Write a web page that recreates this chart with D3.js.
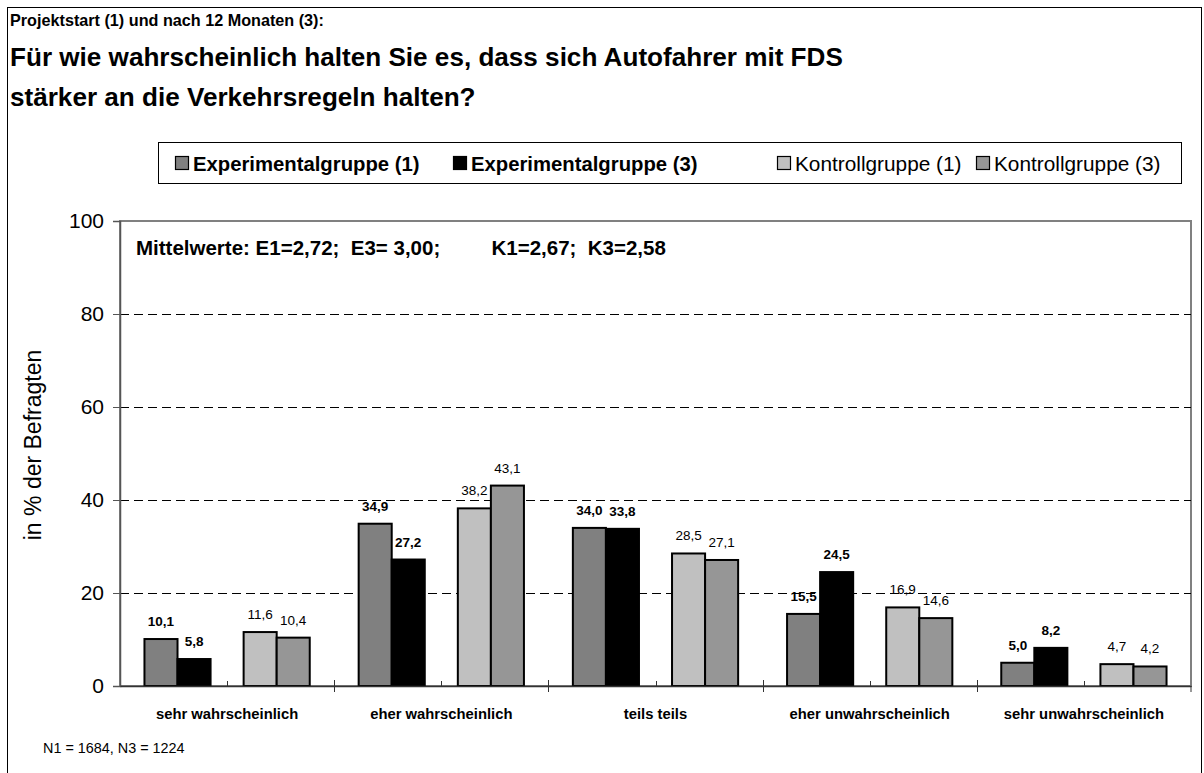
<!DOCTYPE html>
<html>
<head>
<meta charset="utf-8">
<script src="https://cdn.jsdelivr.net/npm/d3@7"></script>
<style>
  body { margin: 0; background: #fff; }
  svg { font-family: "Liberation Sans", Arial, sans-serif; }
</style>
</head>
<body>
<div id="chart"></div>
<script>
const groups = ['sehr wahrscheinlich', 'eher wahrscheinlich', 'teils teils', 'eher unwahrscheinlich', 'sehr unwahrscheinlich'];
const seriesKeys = ['E1', 'E3', 'K1', 'K3'];
const seriesNames = ['Experimentalgruppe (1)', 'Experimentalgruppe (3)', 'Kontrollgruppe (1)', 'Kontrollgruppe (3)'];
const e1 = [10.1, 34.9, 34.0, 15.5, 5.0];
const e3 = [5.8, 27.2, 33.8, 24.5, 8.2];
const k1 = [11.6, 38.2, 28.5, 16.9, 4.7];
const k3 = [10.4, 43.1, 27.1, 14.6, 4.2];
const yTicks = [0, 20, 40, 60, 80, 100];
const meansText = 'Mittelwerte: E1=2,72;  E3= 3,00;         K1=2,67;  K3=2,58';
const nText = 'N1 = 1684, N3 = 1224';

const colors = { E1: '#808080', E3: '#000000', K1: '#c0c0c0', K3: '#969696' };
const bold = { E1: true, E3: true, K1: false, K3: false };

const W = 1204, H = 773;
const plot = { left: 120, right: 1191, top: 221, bottom: 686 };

const svg = d3.select('#chart').append('svg')
    .attr('width', W)
    .attr('height', H);

// outer frame
svg.append('rect')
    .attr('x', 7.5).attr('y', 7.5)
    .attr('width', 1194).attr('height', 790)
    .attr('fill', 'none').attr('stroke', '#000').attr('stroke-width', 1);

svg.append('text')
    .attr('x', 10).attr('y', 26)
    .style('font-size', '16.2px').style('font-weight', 'bold')
    .text('Projektstart (1) und nach 12 Monaten (3):');
svg.append('text')
    .attr('x', 10).attr('y', 66)
    .style('font-size', '26.1px').style('font-weight', 'bold')
    .text('Für wie wahrscheinlich halten Sie es, dass sich Autofahrer mit FDS');
svg.append('text')
    .attr('x', 10).attr('y', 106)
    .style('font-size', '26.1px').style('font-weight', 'bold')
    .text('stärker an die Verkehrsregeln halten?');

// legend
const legend = svg.append('g');
legend.append('rect')
    .attr('x', 158.5).attr('y', 142.5)
    .attr('width', 1023).attr('height', 41)
    .attr('fill', '#fff').attr('stroke', '#000');
const legendX = [175, 453, 777, 976];
seriesKeys.forEach((k, i) => {
    const g = legend.append('g').attr('transform', `translate(${legendX[i]},163)`);
    g.append('rect')
        .attr('x', 0.5).attr('y', -6.5)
        .attr('width', 13).attr('height', 13)
        .attr('fill', colors[k]).attr('stroke', '#000').attr('stroke-width', 1.2);
    g.append('text')
        .attr('x', 18).attr('y', 7.5)
        .style('font-size', bold[k] ? '20.3px' : '20.8px')
        .style('font-weight', bold[k] ? 'bold' : 'normal')
        .text(seriesNames[i]);
});

const x0 = d3.scaleBand()
    .domain(groups)
    .range([plot.left, plot.right]);
const x1 = d3.scaleBand()
    .domain(['E1', 'E3', 'gap', 'K1', 'K3'])
    .range([0, x0.bandwidth()])
    .paddingOuter(0.74);
const y = d3.scaleLinear()
    .domain([0, 100])
    .range([plot.bottom, plot.top]);

// plot area border
svg.append('rect')
    .attr('x', plot.left).attr('y', plot.top)
    .attr('width', plot.right - plot.left).attr('height', plot.bottom - plot.top)
    .attr('fill', 'none').attr('stroke', '#808080').attr('stroke-width', 2);

// gridlines
svg.append('g').selectAll('line')
    .data(yTicks.filter(d => d > 0 && d < 100))
    .enter().append('line')
    .attr('x1', plot.left).attr('x2', plot.right)
    .attr('y1', d => Math.round(y(d)) + 0.5).attr('y2', d => Math.round(y(d)) + 0.5)
    .attr('stroke', '#000').attr('stroke-width', 1)
    .attr('stroke-dasharray', '9,5');

const yAxis = d3.axisLeft(y).tickValues(yTicks).tickSize(7).tickPadding(9);
const yg = svg.append('g')
    .attr('transform', `translate(${plot.left},0)`)
    .call(yAxis);
yg.select('.domain').attr('stroke', '#555').attr('stroke-width', 1.5);
yg.selectAll('.tick line').attr('stroke', '#555');
yg.selectAll('.tick text')
    .style('font-size', '21px')
    .style('font-family', '"Liberation Sans", Arial, sans-serif')
    .attr('fill', '#000');

svg.append('text')
    .attr('transform', `translate(41,445) rotate(-90)`)
    .style('text-anchor', 'middle')
    .style('font-size', '23px')
    .text('in % der Befragten');

svg.append('text')
    .attr('x', 136).attr('y', 255)
    .attr('xml:space', 'preserve')
    .style('white-space', 'pre')
    .style('font-size', '20.5px').style('font-weight', 'bold')
    .text(meansText);

// bars
const rows = groups.map((g, i) => ({
    group: g,
    values: [
        { key: 'E1', value: e1[i] },
        { key: 'E3', value: e3[i] },
        { key: 'K1', value: k1[i] },
        { key: 'K3', value: k3[i] }
    ]
}));
const fmt = v => d3.format('.1f')(v).replace('.', ',');

const gGroups = svg.append('g').selectAll('g')
    .data(rows)
    .enter().append('g')
    .attr('transform', d => `translate(${x0(d.group)},0)`);

gGroups.selectAll('rect')
    .data(d => d.values)
    .enter().append('rect')
    .attr('x', d => x1(d.key))
    .attr('y', d => y(d.value))
    .attr('width', x1.bandwidth())
    .attr('height', d => y(0) - y(d.value))
    .attr('fill', d => colors[d.key])
    .attr('stroke', '#000')
    .attr('stroke-width', 2);

gGroups.selectAll('text')
    .data(d => d.values)
    .enter().append('text')
    .attr('x', d => x1(d.key) + x1.bandwidth() / 2)
    .attr('y', d => y(d.value) - 13)
    .style('text-anchor', 'middle')
    .style('font-size', '13.5px')
    .style('font-weight', d => bold[d.key] ? 'bold' : 'normal')
    .text(d => fmt(d.value));

// x axis
const xAxis = d3.axisBottom(x0).tickSize(0).tickPadding(22);
const xg = svg.append('g')
    .attr('transform', `translate(0,${plot.bottom})`)
    .call(xAxis);
xg.select('.domain').attr('stroke', '#333').attr('stroke-width', 1.5);
xg.selectAll('.tick text')
    .style('font-size', '14.8px')
    .style('font-weight', 'bold')
    .style('font-family', '"Liberation Sans", Arial, sans-serif')
    .attr('fill', '#000');

// crossing ticks between groups, inner ticks at group centres
xg.append('g').selectAll('line')
    .data(groups.slice(1))
    .enter().append('line')
    .attr('x1', d => Math.round(x0(d)) + 0.5).attr('x2', d => Math.round(x0(d)) + 0.5)
    .attr('y1', -6).attr('y2', 6)
    .attr('stroke', '#333');
xg.append('g').selectAll('line')
    .data(groups)
    .enter().append('line')
    .attr('x1', d => Math.round(x0(d) + x0.bandwidth() / 2) + 0.5)
    .attr('x2', d => Math.round(x0(d) + x0.bandwidth() / 2) + 0.5)
    .attr('y1', -5).attr('y2', 0)
    .attr('stroke', '#333');
xg.append('line')
    .attr('x1', plot.right).attr('x2', plot.right)
    .attr('y1', 0).attr('y2', 6)
    .attr('stroke', '#333');

svg.append('text')
    .attr('x', 43).attr('y', 753)
    .style('font-size', '14.4px')
    .text(nText);
</script>
</body>
</html>
